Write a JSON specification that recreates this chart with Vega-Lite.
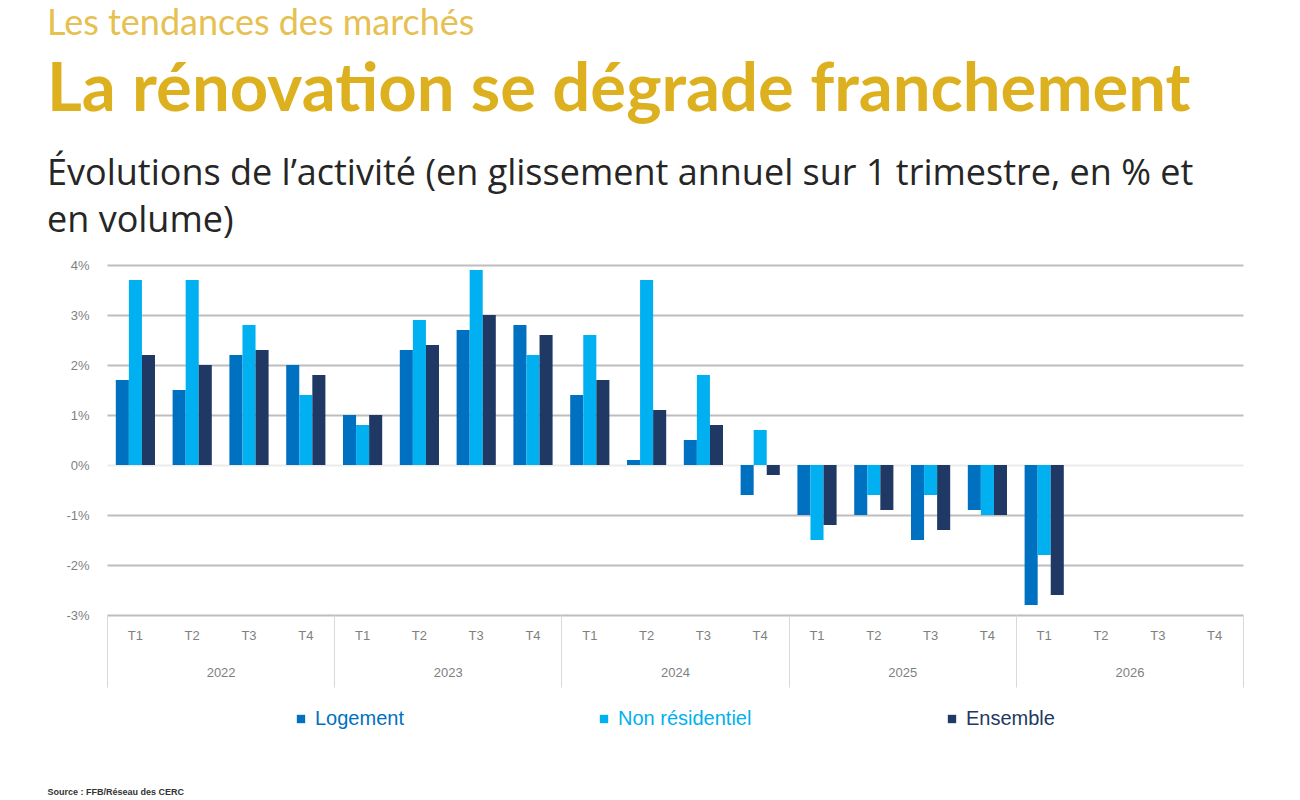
{
  "$schema": "https://vega.github.io/schema/vega-lite/v6.json",
  "background": "white",
  "padding": {"left": 47, "top": 6, "right": 5, "bottom": 0},
  "config": {"view": {"stroke": null}, "font": "Lato"},
  "title": {
    "text": "Les tendances des marchés",
    "subtitle": "La rénovation se dégrade franchement",
    "anchor": "start",
    "frame": "bounds",
    "font": "Lato",
    "fontSize": 36,
    "fontWeight": "normal",
    "color": "#E6C050",
    "subtitleFont": "Lato",
    "subtitleFontSize": 67,
    "subtitleFontWeight": "bold",
    "subtitleColor": "#DDB020",
    "subtitlePadding": 15,
    "offset": 31
  },
  "data": {
    "values": [
      {"key": "2022 T1", "year": "2022", "serie": "Logement", "value": 1.7},
      {"key": "2022 T1", "year": "2022", "serie": "Non résidentiel", "value": 3.7},
      {"key": "2022 T1", "year": "2022", "serie": "Ensemble", "value": 2.2},
      {"key": "2022 T2", "year": "2022", "serie": "Logement", "value": 1.5},
      {"key": "2022 T2", "year": "2022", "serie": "Non résidentiel", "value": 3.7},
      {"key": "2022 T2", "year": "2022", "serie": "Ensemble", "value": 2.0},
      {"key": "2022 T3", "year": "2022", "serie": "Logement", "value": 2.2},
      {"key": "2022 T3", "year": "2022", "serie": "Non résidentiel", "value": 2.8},
      {"key": "2022 T3", "year": "2022", "serie": "Ensemble", "value": 2.3},
      {"key": "2022 T4", "year": "2022", "serie": "Logement", "value": 2.0},
      {"key": "2022 T4", "year": "2022", "serie": "Non résidentiel", "value": 1.4},
      {"key": "2022 T4", "year": "2022", "serie": "Ensemble", "value": 1.8},
      {"key": "2023 T1", "year": "2023", "serie": "Logement", "value": 1.0},
      {"key": "2023 T1", "year": "2023", "serie": "Non résidentiel", "value": 0.8},
      {"key": "2023 T1", "year": "2023", "serie": "Ensemble", "value": 1.0},
      {"key": "2023 T2", "year": "2023", "serie": "Logement", "value": 2.3},
      {"key": "2023 T2", "year": "2023", "serie": "Non résidentiel", "value": 2.9},
      {"key": "2023 T2", "year": "2023", "serie": "Ensemble", "value": 2.4},
      {"key": "2023 T3", "year": "2023", "serie": "Logement", "value": 2.7},
      {"key": "2023 T3", "year": "2023", "serie": "Non résidentiel", "value": 3.9},
      {"key": "2023 T3", "year": "2023", "serie": "Ensemble", "value": 3.0},
      {"key": "2023 T4", "year": "2023", "serie": "Logement", "value": 2.8},
      {"key": "2023 T4", "year": "2023", "serie": "Non résidentiel", "value": 2.2},
      {"key": "2023 T4", "year": "2023", "serie": "Ensemble", "value": 2.6},
      {"key": "2024 T1", "year": "2024", "serie": "Logement", "value": 1.4},
      {"key": "2024 T1", "year": "2024", "serie": "Non résidentiel", "value": 2.6},
      {"key": "2024 T1", "year": "2024", "serie": "Ensemble", "value": 1.7},
      {"key": "2024 T2", "year": "2024", "serie": "Logement", "value": 0.1},
      {"key": "2024 T2", "year": "2024", "serie": "Non résidentiel", "value": 3.7},
      {"key": "2024 T2", "year": "2024", "serie": "Ensemble", "value": 1.1},
      {"key": "2024 T3", "year": "2024", "serie": "Logement", "value": 0.5},
      {"key": "2024 T3", "year": "2024", "serie": "Non résidentiel", "value": 1.8},
      {"key": "2024 T3", "year": "2024", "serie": "Ensemble", "value": 0.8},
      {"key": "2024 T4", "year": "2024", "serie": "Logement", "value": -0.6},
      {"key": "2024 T4", "year": "2024", "serie": "Non résidentiel", "value": 0.7},
      {"key": "2024 T4", "year": "2024", "serie": "Ensemble", "value": -0.2},
      {"key": "2025 T1", "year": "2025", "serie": "Logement", "value": -1.0},
      {"key": "2025 T1", "year": "2025", "serie": "Non résidentiel", "value": -1.5},
      {"key": "2025 T1", "year": "2025", "serie": "Ensemble", "value": -1.2},
      {"key": "2025 T2", "year": "2025", "serie": "Logement", "value": -1.0},
      {"key": "2025 T2", "year": "2025", "serie": "Non résidentiel", "value": -0.6},
      {"key": "2025 T2", "year": "2025", "serie": "Ensemble", "value": -0.9},
      {"key": "2025 T3", "year": "2025", "serie": "Logement", "value": -1.5},
      {"key": "2025 T3", "year": "2025", "serie": "Non résidentiel", "value": -0.6},
      {"key": "2025 T3", "year": "2025", "serie": "Ensemble", "value": -1.3},
      {"key": "2025 T4", "year": "2025", "serie": "Logement", "value": -0.9},
      {"key": "2025 T4", "year": "2025", "serie": "Non résidentiel", "value": -1.0},
      {"key": "2025 T4", "year": "2025", "serie": "Ensemble", "value": -1.0},
      {"key": "2026 T1", "year": "2026", "serie": "Logement", "value": -2.8},
      {"key": "2026 T1", "year": "2026", "serie": "Non résidentiel", "value": -1.8},
      {"key": "2026 T1", "year": "2026", "serie": "Ensemble", "value": -2.6}
    ]
  },
  "vconcat": [
    {
      "width": 1136,
      "height": 350,
      "title": {
        "text": ["Évolutions de l’activité (en glissement annuel sur 1 trimestre, en % et", "en volume)"],
        "anchor": "start",
        "frame": "bounds",
        "font": "Open Sans",
        "fontSize": 36,
        "fontWeight": "normal",
        "color": "#262626",
        "lineHeight": 47,
        "offset": 19
      },
      "layer": [
        {
          "mark": {"type": "bar"},
          "encoding": {
            "x": {
              "field": "key",
              "type": "nominal",
              "scale": {
                "domain": ["2022 T1","2022 T2","2022 T3","2022 T4","2023 T1","2023 T2","2023 T3","2023 T4","2024 T1","2024 T2","2024 T3","2024 T4","2025 T1","2025 T2","2025 T3","2025 T4","2026 T1","2026 T2","2026 T3","2026 T4"],
                "paddingInner": 0.31,
                "paddingOuter": 0.155
              },
              "axis": {
                "orient": "bottom",
                "title": null,
                "domain": false,
                "ticks": false,
                "labelAngle": 0,
                "labelExpr": "substring(datum.label, 5)",
                "labelFont": "Liberation Sans",
                "labelFontSize": 13,
                "labelColor": "#7f7f7f",
                "labelPadding": 14
              }
            },
            "xOffset": {
              "field": "serie",
              "type": "nominal",
              "scale": {"domain": ["Logement", "Non résidentiel", "Ensemble"], "paddingInner": 0, "paddingOuter": 0}
            },
            "y": {
              "field": "value",
              "type": "quantitative",
              "scale": {"domain": [-3, 4], "nice": false, "zero": false},
              "axis": {
                "title": null,
                "values": [-3, -2, -1, 0, 1, 2, 3, 4],
                "labelExpr": "datum.value + '%'",
                "domain": false,
                "ticks": false,
                "labelFont": "Liberation Sans",
                "labelFontSize": 13,
                "labelColor": "#7f7f7f",
                "labelPadding": 18,
                "grid": true,
                "gridColor": {"condition": {"test": "datum.value === 0", "value": "#ebebeb"}, "value": "#bdbdbd"},
                "gridWidth": 2
              }
            },
            "color": {
              "field": "serie",
              "type": "nominal",
              "scale": {"domain": ["Logement", "Non résidentiel", "Ensemble"], "range": ["#0070C0", "#00B0F0", "#1F3864"]},
              "legend": {
                "title": null,
                "orient": "none",
                "legendX": 184,
                "legendY": 444,
                "direction": "horizontal",
                "columns": 3,
                "columnPadding": 190,
                "symbolType": "square",
                "symbolSize": 70,
                "symbolStrokeWidth": 0,
                "labelOffset": 4,
                "labelFont": "Liberation Sans",
                "labelFontSize": 20,
                "encode": {"labels": {"update": {"fill": {"scale": "color", "field": "value"}}}}
              }
            }
          }
        },
        {
          "mark": {"type": "rule", "opacity": 0},
          "encoding": {
            "x": {
              "field": "year",
              "type": "nominal",
              "scale": {"domain": ["2022", "2023", "2024", "2025", "2026"], "paddingInner": 0, "paddingOuter": 0},
              "axis": {
                "orient": "bottom",
                "domain": false,
                "ticks": true,
                "tickBand": "extent",
                "tickSize": 72,
                "tickColor": "#d9d9d9",
                "tickWidth": 1,
                "labelAngle": 0,
                "labelFont": "Liberation Sans",
                "labelFontSize": 13,
                "labelColor": "#7f7f7f",
                "labelPadding": -21,
                "title": "Source : FFB/Réseau des CERC",
                "titleX": -60,
                "titleY": 172,
                "titleAlign": "left",
                "titleBaseline": "top",
                "titleFont": "Liberation Sans",
                "titleFontSize": 9,
                "titleFontWeight": "bold",
                "titleColor": "#333333"
              }
            }
          }
        }
      ],
      "resolve": {"scale": {"x": "independent"}, "axis": {"x": "independent"}}
    }
  ]
}
